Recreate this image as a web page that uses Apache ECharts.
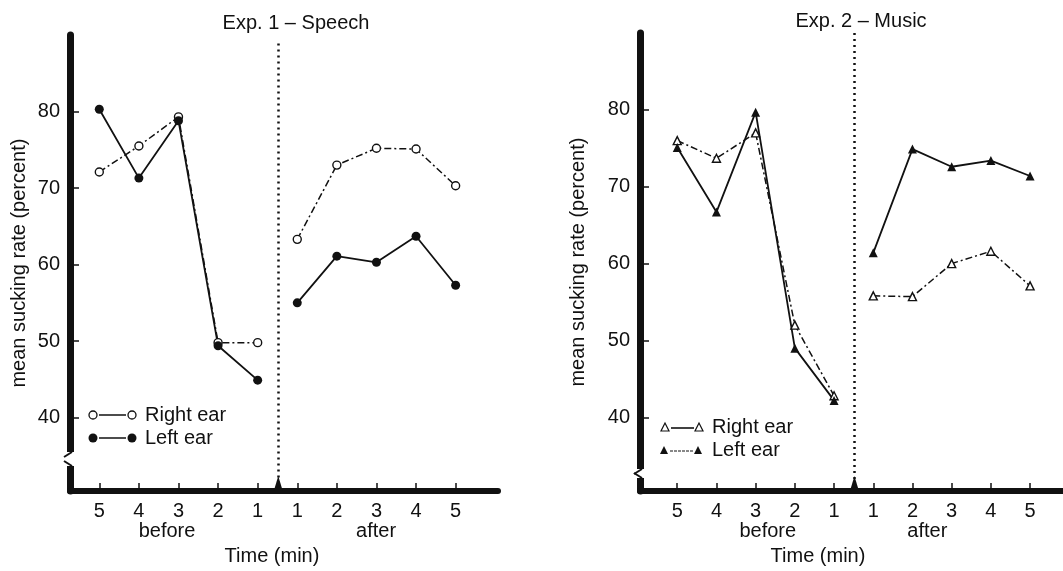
<!DOCTYPE html>
<html>
<head>
<meta charset="utf-8">
<style>
  html, body { margin: 0; padding: 0; background: #fff; }
  #main { width: 1063px; height: 571px; }
</style>
<script src="https://cdn.jsdelivr.net/npm/echarts@6/dist/echarts.min.js"></script>
</head>
<body>
<div id="main"></div>
<script>
// tick labels on the time axis (before: 5..1, after: 1..5)
var xLabels = ['5', '4', '3', '2', '1', '1', '2', '3', '4', '5'];
var xTicks = [0, 1, 2, 3, 4, 5, 6, 7, 8, 9];
var yTicks = [40, 50, 60, 70, 80];
var phaseNames = ['before', 'after'];

// Exp. 1 - Speech
var speechRight = [72.1, 75.5, 79.3, 49.8, 49.8, 63.3, 73.0, 75.2, 75.1, 70.3];
var speechLeft = [80.3, 71.3, 78.8, 49.4, 44.9, 55.0, 61.1, 60.3, 63.7, 57.3];
// Exp. 2 - Music
var musicRight = [76.0, 73.7, 77.0, 52.0, 42.8, 55.8, 55.7, 60.0, 61.6, 57.1];
var musicLeft = [75.1, 66.7, 79.7, 49.0, 42.2, 61.4, 74.9, 72.6, 73.4, 71.4];

var ink = '#111';
var font = "'Liberation Sans', Arial, Helvetica, sans-serif";
var yMin = 30.4, yMax = 90;
var switchAt = 4.52; // dotted line between "before" and "after"

var myChart = echarts.init(document.getElementById('main'));

// split a 10-value row into the before / after pieces
function segment(values, from, to) {
    var out = [];
    for (var i = from; i < to; i++) out.push([i, values[i]]);
    return out;
}

function earSeries(name, values, grid, open, sym, dashed) {
    var base = {
        name: name,
        type: 'line',
        xAxisIndex: grid * 2,
        yAxisIndex: grid,
        symbol: sym,
        symbolSize: open ? 8 : 9,
        showSymbol: true,
        animation: false,
        itemStyle: open ? { color: '#fff', borderColor: ink, borderWidth: 1.4 } : { color: ink },
        lineStyle: { color: ink, width: dashed ? 1.5 : 1.8, type: dashed ? [7, 3, 2, 3] : 'solid' }
    };
    return [
        Object.assign({}, base, { data: segment(values, 0, 5) }),
        Object.assign({}, base, { data: segment(values, 5, 10) })
    ];
}

function divider(grid, top) {
    return {
        type: 'line',
        xAxisIndex: grid * 2,
        yAxisIndex: grid,
        data: [],
        animation: false,
        markLine: {
            silent: true,
            symbol: 'none',
            label: { show: false },
            lineStyle: { color: ink, width: 2.5, type: [2, 4] },
            data: [[{ coord: [switchAt, top] }, { coord: [switchAt, yMin] }]]
        },
        markPoint: {
            silent: true,
            symbol: 'triangle',
            symbolSize: [9, 15],
            symbolOffset: [0, '-50%'],
            itemStyle: { color: ink },
            label: { show: false },
            data: [{ coord: [switchAt, yMin] }]
        }
    };
}

function timeAxes(grid, min, max, phasePos, namePad) {
    return [
        {
            type: 'value', gridIndex: grid, min: min, max: max, position: 'bottom',
            axisLine: { show: true, onZero: false, lineStyle: { color: ink, width: 6 } },
            axisTick: { show: true, inside: true, length: 8, customValues: xTicks, lineStyle: { color: ink, width: 1.5 } },
            axisLabel: {
                customValues: xTicks, margin: 10, fontSize: 20, color: ink, fontFamily: font,
                formatter: function (v) { return xLabels[Math.round(v)]; }
            },
            splitLine: { show: false }
        },
        {
            type: 'value', gridIndex: grid, min: min, max: max, position: 'bottom', offset: 20,
            axisLine: { show: false }, axisTick: { show: false },
            axisLabel: {
                customValues: phasePos, margin: 10, fontSize: 20, color: ink, fontFamily: font,
                formatter: function (v) { return v < switchAt ? phaseNames[0] : phaseNames[1]; }
            },
            splitLine: { show: false },
            name: 'Time (min)', nameLocation: 'middle', nameGap: 30,
            nameTextStyle: { fontSize: 20, color: ink, fontFamily: font, padding: [0, namePad, 0, 0] }
        }
    ];
}

function rateAxis(grid, gap) {
    return {
        type: 'value', gridIndex: grid, min: yMin, max: yMax,
        axisLine: { show: true, onZero: false, lineStyle: { color: ink, width: 7 } },
        axisTick: { show: true, inside: true, length: 9, customValues: yTicks, lineStyle: { color: ink, width: 1.5 } },
        axisLabel: { customValues: yTicks, margin: 10, fontSize: 20, color: ink, fontFamily: font },
        splitLine: { show: false },
        name: 'mean sucking rate (percent)', nameLocation: 'middle', nameGap: gap,
        nameTextStyle: { fontSize: 20, color: ink, fontFamily: font }
    };
}

var option = {
    backgroundColor: '#fff',
    animation: false,
    title: [
        { text: 'Exp. 1 – Speech', left: 291, top: 8, textAlign: 'center',
          textStyle: { fontSize: 20, fontWeight: 'normal', color: ink, fontFamily: font } },
        { text: 'Exp. 2 – Music', left: 856, top: 6, textAlign: 'center',
          textStyle: { fontSize: 20, fontWeight: 'normal', color: ink, fontFamily: font } }
    ],
    grid: [
        { left: 70, top: 35, width: 428, bottom: 75 },
        { left: 640, top: 33, right: 0, bottom: 74 }
    ],
    xAxis: timeAxes(0, -0.74, 10.07, [1.71, 6.99], 24).concat(timeAxes(1, -0.95, 9.84, [2.31, 6.38], 67)),
    yAxis: [rateAxis(0, 41), rateAxis(1, 52)],
    series: [].concat(
        earSeries('Right ear', speechRight, 0, true, 'circle', true),
        earSeries('Left ear', speechLeft, 0, false, 'circle', false),
        earSeries('Right ear', musicRight, 1, true, 'triangle', true),
        earSeries('Left ear', musicLeft, 1, false, 'triangle', false),
        [divider(0, 88.9), divider(1, yMax)]
    )
};
myChart.setOption(option);

// axis breaks and the hand-drawn keys
function axisBreak(x, y1, y2) {
    return [
        { type: 'rect', shape: { x: x - 6, y: y1, width: 12, height: y2 - y1 }, style: { fill: '#fff' }, z: 100 },
        { type: 'line', shape: { x1: x + 2, y1: y1, x2: x - 6, y2: y1 + 5 }, style: { stroke: ink, lineWidth: 2 }, z: 101 },
        { type: 'line', shape: { x1: x + 2, y1: y2, x2: x - 6, y2: y2 - 5 }, style: { stroke: ink, lineWidth: 2 }, z: 101 }
    ];
}

function keyText(x, y, txt) {
    return { type: 'text', z: 100, style: { x: x, y: y, text: txt, font: '20px ' + font, fill: ink, verticalAlign: 'middle' } };
}

function circleKey(x, y, open) {
    var st = open ? { fill: '#fff', stroke: ink, lineWidth: 1.3 } : { fill: ink };
    return [
        { type: 'circle', shape: { cx: x, cy: y, r: open ? 4 : 4.5 }, style: st, z: 100 },
        { type: 'line', shape: { x1: x + 6, y1: y, x2: x + 33, y2: y }, style: { stroke: ink, lineWidth: 1.5 }, z: 100 },
        { type: 'circle', shape: { cx: x + 39, cy: y, r: open ? 4 : 4.5 }, style: st, z: 100 }
    ];
}

function triKey(x, y, open, dashed) {
    var st = open ? { fill: '#fff', stroke: ink, lineWidth: 1.2 } : { fill: ink };
    function tri(cx) {
        return { type: 'polygon', shape: { points: [[cx - 4, y + 4], [cx + 4, y + 4], [cx, y - 4]] }, style: st, z: 100 };
    }
    return [
        tri(x),
        { type: 'line', shape: { x1: x + 6, y1: y + 1, x2: x + 29, y2: y + 1 },
          style: { stroke: ink, lineWidth: dashed ? 1 : 1.6, lineDash: dashed ? [3, 1] : null }, z: 100 },
        tri(x + 34)
    ];
}

myChart.setOption({
    graphic: [].concat(
        axisBreak(70, 452, 466),
        axisBreak(640, 469, 478),
        circleKey(93, 415, true), [keyText(145, 415, 'Right ear')],
        circleKey(93, 438, false), [keyText(145, 438, 'Left ear')],
        triKey(665, 427, true, false), [keyText(712, 427, 'Right ear')],
        triKey(664, 450, false, true), [keyText(712, 450, 'Left ear')]
    )
});
</script>
</body>
</html>
